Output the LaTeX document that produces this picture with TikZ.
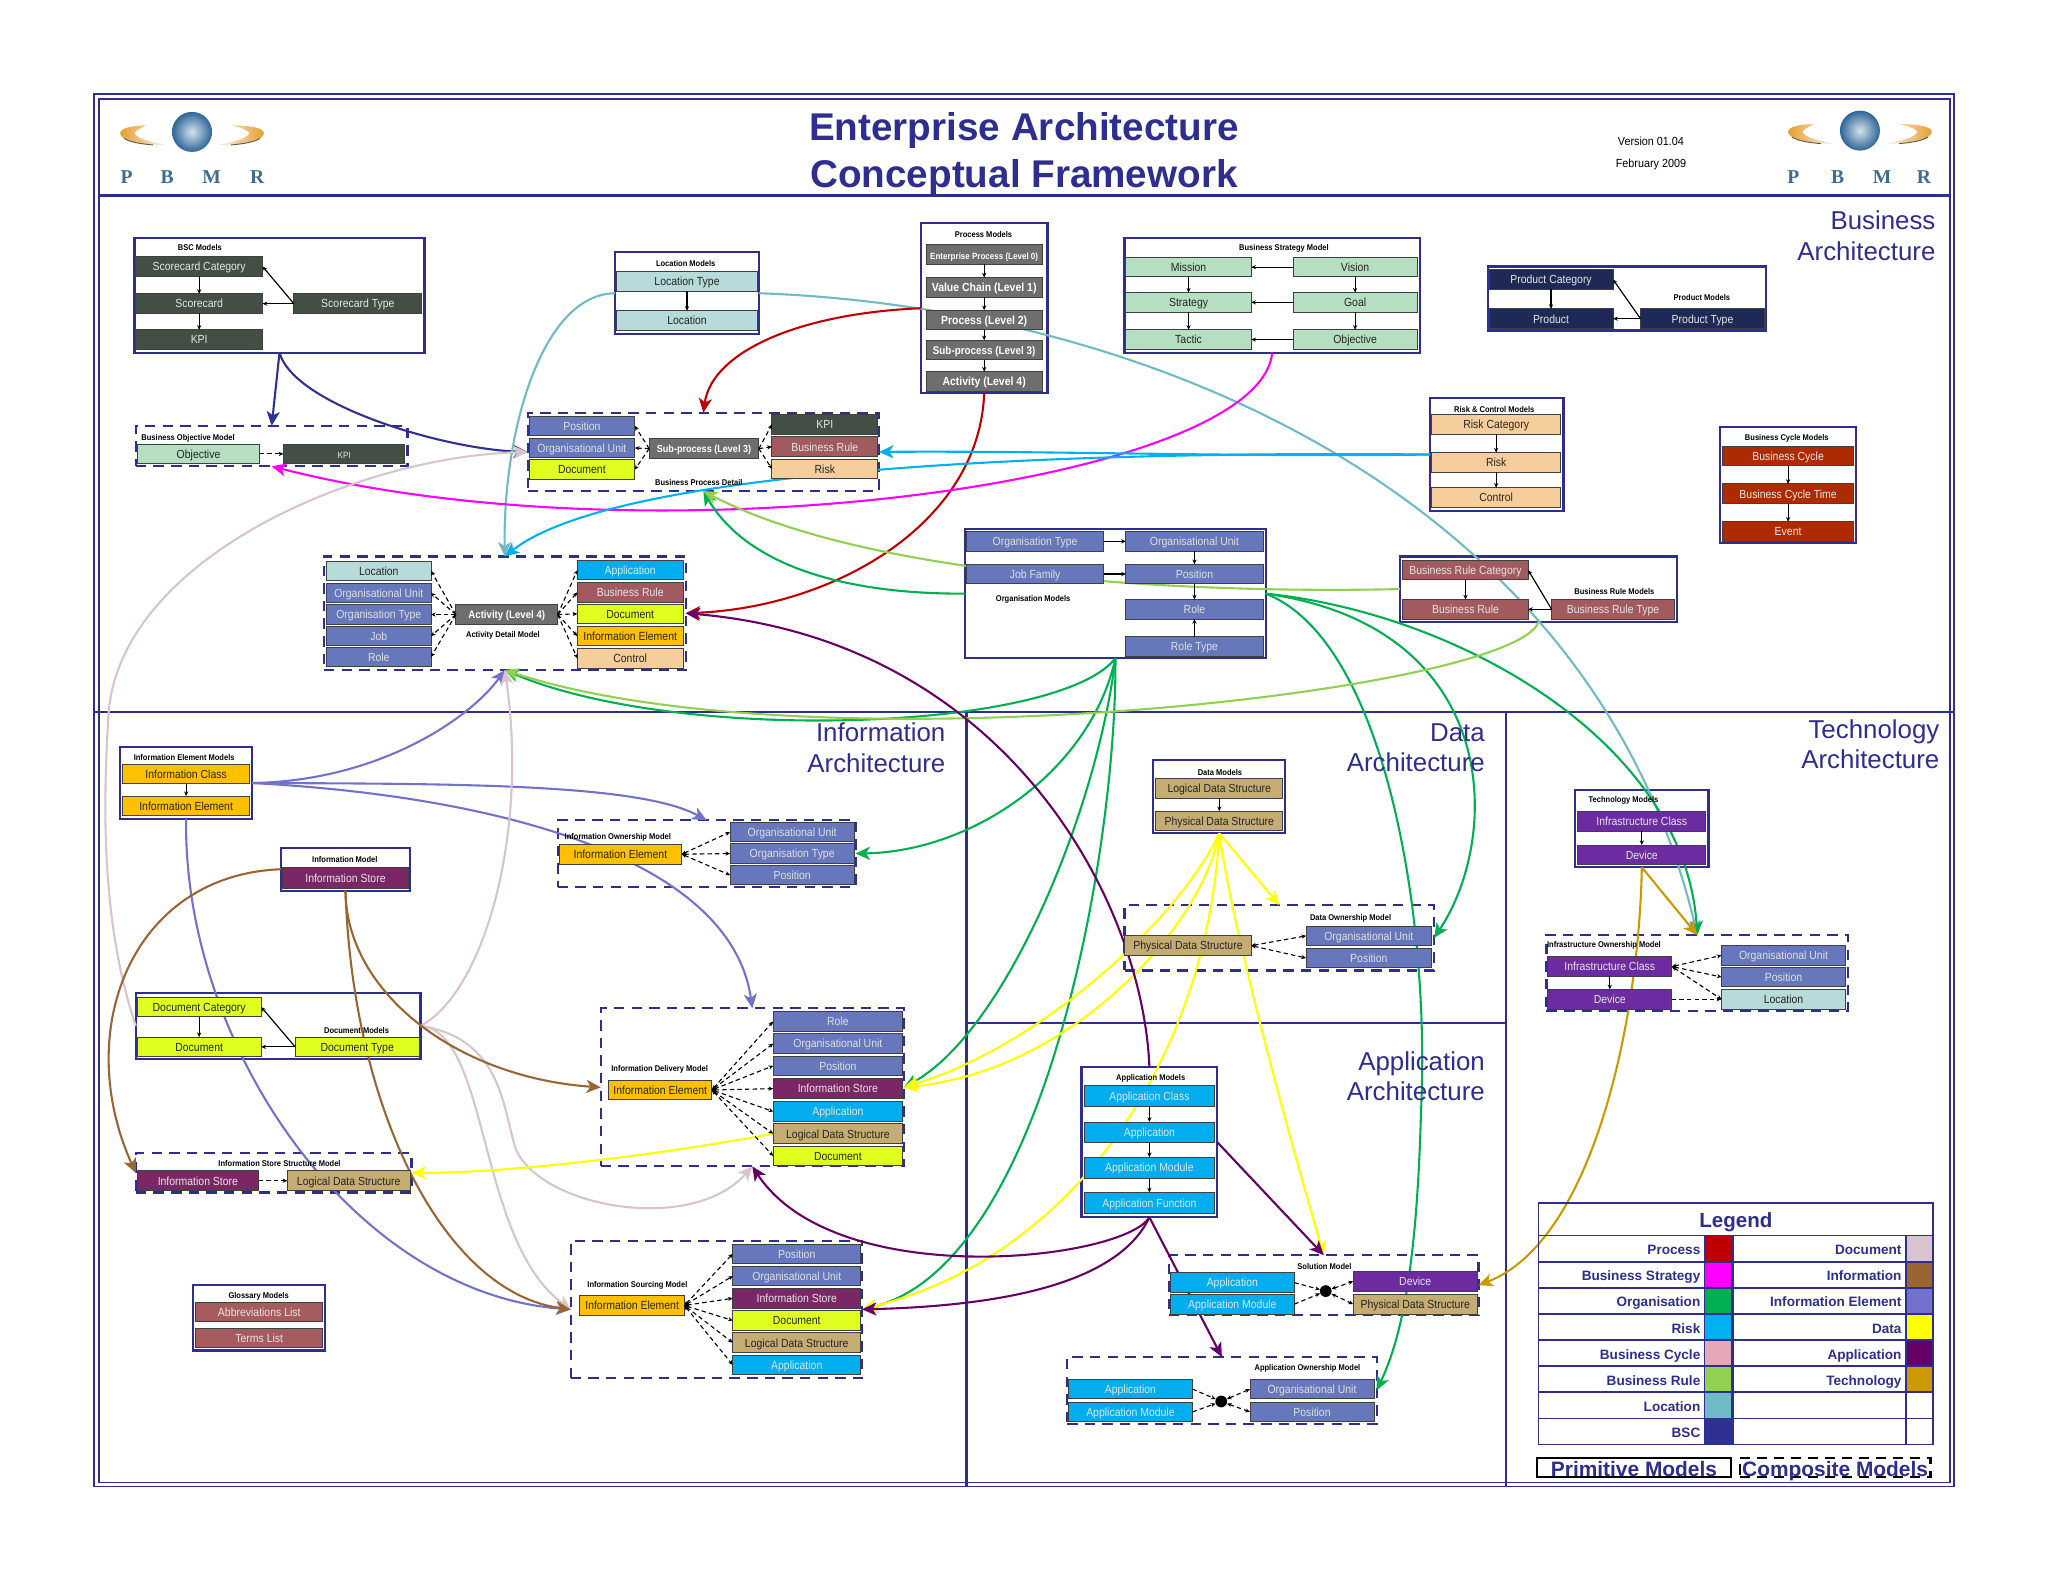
\documentclass[tikz,border=0pt]{standalone}
\usepackage{graphicx}
\usepackage{fontspec}
\setmainfont{Liberation Sans}
\newfontfamily\logofont{Liberation Serif}
\usetikzlibrary{arrows.meta}
\pgfdeclarelayer{frames}\pgfdeclarelayer{links}\pgfsetlayers{frames,links,main}
\definecolor{navy}{HTML}{2E2E90}
\definecolor{gBsc}{HTML}{434F45}\definecolor{gProc}{HTML}{6E6E6E}\definecolor{gStrat}{HTML}{B6DEC0}
\definecolor{gProd}{HTML}{1E2A55}\definecolor{gRisk}{HTML}{F6CE9C}\definecolor{gCyc}{HTML}{AE2A00}
\definecolor{gRule}{HTML}{A15B5E}\definecolor{gOrg}{HTML}{6677BB}\definecolor{gDoc}{HTML}{E0FF1F}
\definecolor{gIe}{HTML}{FFC000}\definecolor{gStore}{HTML}{7B2665}\definecolor{gLds}{HTML}{C4AC72}
\definecolor{gApp}{HTML}{00AEEF}\definecolor{gDev}{HTML}{6C2BA0}\definecolor{gGloss}{HTML}{A65C5E}
\definecolor{gLoc}{HTML}{B7DADB}
\definecolor{cBSC}{HTML}{2E3192}\definecolor{cProc}{HTML}{C00000}\definecolor{cStrat}{HTML}{FF00FF}
\definecolor{cOrg}{HTML}{00B050}\definecolor{cRisk}{HTML}{00B0F0}\definecolor{cCyc}{HTML}{E6A8B6}
\definecolor{cRule}{HTML}{92D050}\definecolor{cLoc}{HTML}{6FBBC5}\definecolor{cDoc}{HTML}{D9C3CE}
\definecolor{cInfo}{HTML}{996633}\definecolor{cIE}{HTML}{7272CC}\definecolor{cData}{HTML}{FFFF00}
\definecolor{cApp}{HTML}{660066}\definecolor{cTech}{HTML}{CC9900}
\definecolor{logoGold}{HTML}{E5A032}\definecolor{logoBall}{HTML}{2F6596}\definecolor{logoHi}{HTML}{D3E3EE}\definecolor{logoText}{HTML}{3F6C8E}
\newcommand\fs[1]{\fontsize{#1}{#1}\selectfont}
\newcommand\tx[1]{\scalebox{.89}[1]{#1}}
\newcommand\bx[6][]{\pgfmathsetmacro\mkW{#4-#3}\pgfmathsetmacro\mkX{(#3+#4)/2}%
  \node[box,minimum width=\mkW pt,#1] (#2) at (\mkX,#5) {\tx{#6}};}
\newcommand\ct[6][prim]{\pgfmathsetmacro\mkW{#5-#3}\pgfmathsetmacro\mkH{#6-#4}%
  \pgfmathsetmacro\mkX{(#3+#5)/2}\pgfmathsetmacro\mkY{(#4+#6)/2}%
  \node[#1,minimum width=\mkW pt,minimum height=\mkH pt] (#2) at (\mkX,\mkY) {};}
\newcommand\lab[4]{\node[lbl] (#1) at (#2,#3+.8) {\scalebox{.9}[1]{#4}};}
\newcommand\legrow[6]{%
  \draw[legline] (1178,#1-10) rectangle (1305,#1+10);
  \draw[legline,fill=#3] (1305,#1-10) rectangle (1326,#1+10);
  \draw[legline] (1327,#1-10) rectangle (1459,#1+10);
  \draw[legline,fill=#5] (1459,#1-10) rectangle (1480,#1+10);
  \node[legt] (legL#6) at (1302,#1+4.6) {#2};
  \node[legt] (legR#6) at (1456,#1+4.6) {#4};}
\newcommand\logo[7]{%
 \begin{scope}[shift={(#2,#3)}]
  \shade[inner color=logoHi,outer color=logoBall] (0,0) circle (15.3);
  \shade[left color=logoGold,right color=logoGold!15!white] (-35,-5) .. controls (-45,-5) and (-55,-3) .. (-55,1) .. controls (-55,7) and (-38,10) .. (-20,10) .. controls (-35,7) and (-42,5) .. (-44,1) .. controls (-43,-1) and (-39,-3) .. (-35,-5);
  \shade[right color=logoGold,left color=logoGold!15!white] (30,-5) .. controls (45,-5) and (55,-3) .. (55,1) .. controls (55,7) and (38,10) .. (20,10) .. controls (35,7) and (42,5) .. (44,1) .. controls (43,-1) and (39,-3) .. (30,-5);
  \draw[black!65,line width=.7] (-52,5) .. controls (-47,8) and (-40,9) .. (-30,10);
  \draw[black!65,line width=.7] (52,5) .. controls (47,8) and (40,9) .. (30,10);
 \end{scope}
 \node[logol] (#1P) at (#4,135.5) {P};
 \node[logol] (#1B) at (#5,135.5) {B};
 \node[logol] (#1M) at (#6,135.5) {M};
 \node[logol] (#1R) at (#7,135.5) {R};}
\tikzset{
 x=1pt,y=-1pt,
 box/.style={draw=black!75,line width=.7,inner sep=0,outer sep=0,minimum height=15pt,text height=7.6pt,text depth=1pt,font=\fs{9}},
 prim/.style={draw=navy,line width=1.7,inner sep=0,outer sep=0},
 comp/.style={prim,dash pattern=on 8pt off 5.5pt},
 lbl/.style={font=\bfseries\fs{6.4},inner sep=0,text=black},
 gsc/.style={fill=gBsc,text=white!90!black}, gp/.style={fill=gProc,text=white,font=\bfseries\fs{9}},
 gs/.style={fill=gStrat,text=black!85}, gd/.style={fill=gProd,text=white!90!black},
 gr/.style={fill=gRisk,text=black!85}, gc/.style={fill=gCyc,text=white!92!black},
 gb/.style={fill=gRule,text=white!90!black}, go/.style={fill=gOrg,text=white!88!black},
 gk/.style={fill=gDoc,text=black!85}, gi/.style={fill=gIe,text=black!85},
 gt/.style={fill=gStore,text=white!90!black}, gl/.style={fill=gLds,text=black!85},
 ga/.style={fill=gApp,text=white!90!black}, gv/.style={fill=gDev,text=white!90!black},
 gg/.style={fill=gGloss,text=white!90!black}, gn/.style={fill=gLoc,text=black!85},
 sol/.style={draw=black,line width=.9,-{Stealth[length=3.6pt,width=3.2pt]}},
 dsh/.style={draw=black,line width=.85,dash pattern=on 3.4pt off 2.4pt,-{Stealth[length=3.6pt,width=3.2pt]}},
 dsb/.style={dsh,{Stealth[length=3.6pt,width=3.2pt]}-{Stealth[length=3.6pt,width=3.2pt]}},
 lk/.style={line width=1.6,-{Stealth[length=11pt,width=10pt,inset=3pt]}},
 arch/.style={font=\fs{19.8},text=navy,align=right,anchor=east,inner sep=0},
 legline/.style={draw=navy,line width=1.3},
 legt/.style={font=\bfseries\fs{10.4},text=navy,anchor=base east,inner sep=0},
 logol/.style={font=\logofont\bfseries\fs{15},text=logoText,inner sep=0},
}
\begin{document}
\begin{tikzpicture}
\useasboundingbox (0,0) rectangle (1568,1211.2);
\begin{pgfonlayer}{frames}
 \fill[white] (0,0) rectangle (1568,1211.2);
 \draw[navy,line width=.9] (72,72) rectangle (1496,1138);
 \draw[navy,line width=1.4] (75.5,75.5) rectangle (1493,1135);
 \draw[navy,line width=2.6] (75.5,149.5) -- (1493,149.5);
 \draw[navy,line width=1.8] (72,545) -- (1496,545);
 \draw[navy,line width=1.8] (740,545) -- (740,1138);
 \draw[navy,line width=1.8] (1153,545) -- (1153,1138);
 \draw[navy,line width=1.8] (740,783) -- (1153,783);
 \ct{mBsc}{103}{182}{325}{270}
 \ct{mLoc}{471}{193}{581}{256}
 \ct{mProc}{705}{171}{802}{301}
 \ct{mStrat}{861}{182}{1087}{270}
 \ct{mProd}{1139}{204}{1352}{253}
 \ct{mRisk}{1095}{305}{1197}{391}
 \ct{mCyc}{1317}{327}{1421}{416}
 \ct{mRule}{1072}{426}{1284}{476}
 \ct{mOrg}{739}{405}{969}{504}
 \ct[comp]{mObj}{104}{326}{312}{357}
 \ct[comp]{mDet}{404}{316}{673}{376}
 \ct[comp]{mAct}{248}{426}{525}{513}
 \ct{mIe}{92}{572}{193}{627}
 \ct{mInfo}{215}{649}{314}{682}
 \ct[comp]{mOwn}{427}{628}{655}{679}
 \ct{mDoc}{104}{760}{322}{811}
 \ct[comp]{mDel}{460}{772}{692}{893}
 \ct[comp]{mSto}{104}{883}{315}{913}
 \ct{mGlo}{148}{984}{249}{1034}
 \ct[comp]{mSrc}{437}{950}{660}{1055}
 \ct{mData}{883}{582}{984}{638}
 \ct[comp]{mDown}{861}{693}{1098}{743}
 \ct{mApp}{828}{817}{932}{932}
 \ct[comp]{mSol}{895}{961}{1132}{1007}
 \ct[comp]{mAown}{817}{1039}{1054}{1090}
 \ct{mTech}{1206}{605}{1308}{664}
 \ct[comp]{mInf}{1184}{716}{1415}{774}
\end{pgfonlayer}
% header
\node[font=\bfseries\fs{29.6},text=navy,inner sep=0] (title1) at (784,100) {Enterprise Architecture};
\node[font=\bfseries\fs{29.6},text=navy,inner sep=0] (title2) at (784,136) {Conceptual Framework};
\node[font=\fs{9},inner sep=0] (ver) at (1264,108) {\scalebox{.92}[1]{Version 01.04}};
\node[font=\fs{9},inner sep=0] (dat) at (1264,126) {\scalebox{.92}[1]{February 2009}};
\logo{la}{147}{101}{97}{128}{162}{197}
\logo{lb}{1424}{100}{1373}{1407}{1441}{1473}
\node[arch] (aBus) at (1482,180.5) {Business\\[3.2pt]Architecture};
\node[arch] (aInf) at (724,572.5) {Information\\[3.2pt]Architecture};
\node[arch] (aDat) at (1137,572.5) {Data\\[3.2pt]Architecture};
\node[arch] (aTec) at (1485,569.5) {Technology\\[3.2pt]Architecture};
\node[arch] (aApp) at (1137,824) {Application\\[3.2pt]Architecture};
% BSC
\lab{lBsc}{153}{189}{BSC Models}
\bx[gsc]{bCat}{104}{201}{204}{Scorecard Category}
\bx[gsc]{bSc}{104}{201}{232.5}{Scorecard}
\bx[gsc]{bKpi}{104}{201}{260}{KPI}
\bx[gsc]{bTyp}{225}{323}{232.5}{Scorecard Type}
\draw[sol] (bCat) -- (bSc); \draw[sol] (bSc) -- (bKpi);
\draw[sol] (bTyp.west) -- (bCat.east); \draw[sol] (bTyp.west) -- (bSc.east);
% Location
\lab{lLoc}{525}{201}{Location Models}
\bx[gn]{lT}{472}{580}{215.5}{Location Type}
\bx[gn]{lL}{472}{580}{245.5}{Location}
\draw[sol] (lT) -- (lL);
% Process
\lab{lProc}{753}{179}{Process Models}
\bx[gp,font=\bfseries\fs{6.9}]{p0}{709}{798}{195}{Enterprise Process (Level 0)}
\bx[gp]{p1}{709}{798}{220}{Value Chain (Level 1)}
\bx[gp]{p2}{709}{798}{245}{Process (Level 2)}
\bx[gp,font=\bfseries\fs{8.5}]{p3}{709}{798}{268}{Sub-process (Level 3)}
\bx[gp]{p4}{709}{798}{292}{Activity (Level 4)}
\draw[sol] (p0) -- (p1); \draw[sol] (p1) -- (p2); \draw[sol] (p2) -- (p3); \draw[sol] (p3) -- (p4);
% Strategy
\lab{lStr}{983}{189}{Business Strategy Model}
\bx[gs]{sM}{862}{958}{204.5}{Mission}
\bx[gs]{sV}{990}{1085}{204.5}{Vision}
\bx[gs]{sS}{862}{958}{231.5}{Strategy}
\bx[gs]{sG}{990}{1085}{231.5}{Goal}
\bx[gs]{sT}{862}{958}{260}{Tactic}
\bx[gs]{sO}{990}{1085}{260}{Objective}
\draw[sol] (sV) -- (sM); \draw[sol] (sG) -- (sS); \draw[sol] (sO) -- (sT);
\draw[sol] (sM) -- (sS); \draw[sol] (sS) -- (sT); \draw[sol] (sV) -- (sG); \draw[sol] (sG) -- (sO);
% Product
\lab{lPrd}{1303}{227}{Product Models}
\bx[gd]{dC}{1140}{1235}{214}{Product Category}
\bx[gd]{dP}{1140}{1235}{244}{Product}
\bx[gd]{dT}{1256}{1351}{244}{Product Type}
\draw[sol] (dC) -- (dP); \draw[sol] (dT.west) -- (dP.east); \draw[sol] (dT.west) -- (dC.east);
% Risk
\lab{lRsk}{1144}{313}{Risk \& Control Models}
\bx[gr]{rC}{1096}{1195}{325}{Risk Category}
\bx[gr]{rR}{1096}{1195}{354}{Risk}
\bx[gr]{rK}{1096}{1195}{381}{Control}
\draw[sol] (rC) -- (rR); \draw[sol] (rR) -- (rK);
% Cycle
\lab{lCyc}{1368}{335}{Business Cycle Models}
\bx[gc]{cB}{1319}{1419}{349}{Business Cycle}
\bx[gc]{cT}{1319}{1419}{378}{Business Cycle Time}
\bx[gc]{cE}{1319}{1419}{407}{Event}
\draw[sol] (cB) -- (cT); \draw[sol] (cT) -- (cE);
% Rule
\lab{lRul}{1236}{452}{Business Rule Models}
\bx[gb]{uC}{1074}{1170}{436.5}{Business Rule Category}
\bx[gb]{uR}{1074}{1170}{466.5}{Business Rule}
\bx[gb]{uT}{1188}{1282}{466.5}{Business Rule Type}
\draw[sol] (uC) -- (uR); \draw[sol] (uT.west) -- (uR.east); \draw[sol] (uT.west) -- (uC.east);
% Organisation
\lab{lOrg}{791}{458}{Organisation Models}
\bx[go]{oT}{740}{845}{414.5}{Organisation Type}
\bx[go]{oU}{862}{967}{414.5}{Organisational Unit}
\bx[go]{oJ}{740}{845}{439.5}{Job Family}
\bx[go]{oP}{862}{967}{439.5}{Position}
\bx[go]{oR}{862}{967}{466.5}{Role}
\bx[go]{oY}{862}{967}{495}{Role Type}
\draw[sol] (oT) -- (oU); \draw[sol] (oJ) -- (oP); \draw[sol] (oU) -- (oP); \draw[sol] (oP) -- (oR); \draw[sol] (oY) -- (oR);
% Business objective
\lab{lObj}{144}{335}{Business Objective Model}
\bx[gs]{jO}{105}{199}{347.5}{Objective}
\bx[gsc,font=\fs{7}]{jK}{217}{310}{347.5}{KPI}
\draw[dsh] (jO) -- (jK);
% Process detail
\lab{lDet}{535}{369}{Business Process Detail}
\bx[go]{tP}{405}{486}{326}{Position}
\bx[go]{tU}{405}{486}{343}{Organisational Unit}
\bx[gk]{tD}{405}{486}{359.5}{Document}
\bx[gp,font=\bfseries\fs{7.8}]{tS}{497}{581}{343.5}{Sub-process (Level 3)}
\bx[gsc]{tK}{591}{672}{325}{KPI}
\bx[gb]{tB}{591}{672}{342}{Business Rule}
\bx[gr]{tR}{591}{672}{359}{Risk}
\foreach \n in {tP,tU,tD} \draw[dsh] (tS.west) -- (\n.east);
\foreach \n in {tK,tB,tR} \draw[dsh] (tS.east) -- (\n.west);
% Activity detail
\lab{lAct}{385}{486}{Activity Detail Model}
\bx[gn]{aL}{250}{330}{437}{Location}
\bx[go]{aU}{250}{330}{454}{Organisational Unit}
\bx[go]{aT}{250}{330}{470.5}{Organisation Type}
\bx[go]{aJ}{250}{330}{487}{Job}
\bx[go]{aR}{250}{330}{503}{Role}
\bx[gp,font=\bfseries\fs{8.3}]{aA}{349}{427}{470.5}{Activity (Level 4)}
\bx[ga]{aP}{442}{523}{436.5}{Application}
\bx[gb]{aB}{442}{523}{453.5}{Business Rule}
\bx[gk]{aD}{442}{523}{470}{Document}
\bx[gi]{aI}{442}{523}{487}{Information Element}
\bx[gr]{aC}{442}{523}{504}{Control}
\foreach \n in {aL,aU,aT,aJ,aR} \draw[dsh] (aA.west) -- (\n.east);
\foreach \n in {aP,aB,aD,aI,aC} \draw[dsh] (aA.east) -- (\n.west);
% Information Element models
\lab{lIe}{141}{579}{Information Element Models}
\bx[gi]{iC}{94}{191}{592.5}{Information Class}
\bx[gi]{iE}{94}{191}{617}{Information Element}
\draw[sol] (iC) -- (iE);
\lab{lInf}{264}{657}{Information Model}
\bx[gt,minimum height=16pt]{nS}{216}{313}{672}{Information Store}
% Ownership
\lab{lOwn}{473}{640}{Information Ownership Model}
\bx[gi]{wE}{428}{522}{654}{Information Element}
\bx[go]{wU}{559}{654}{637}{Organisational Unit}
\bx[go]{wT}{559}{654}{653.5}{Organisation Type}
\bx[go]{wP}{559}{654}{670}{Position}
\foreach \n in {wU,wT,wP} \draw[dsb] (wE.east) -- (\n.west);
% Document
\lab{lDoc}{273}{788}{Document Models}
\bx[gk]{kC}{105}{200}{771}{Document Category}
\bx[gk]{kD}{105}{200}{801.5}{Document}
\bx[gk]{kT}{226}{321}{801.5}{Document Type}
\draw[sol] (kC) -- (kD); \draw[sol] (kT.west) -- (kD.east); \draw[sol] (kT.west) -- (kC.east);
% Delivery
\lab{lDel}{505}{818}{Information Delivery Model}
\bx[gi]{eE}{466}{545}{834.5}{Information Element}
\bx[go]{eR}{592}{691}{782}{Role}
\bx[go]{eU}{592}{691}{799}{Organisational Unit}
\bx[go]{eP}{592}{691}{816}{Position}
\bx[gt]{eS}{592}{691}{833.5}{Information Store}
\bx[ga]{eA}{592}{691}{851}{Application}
\bx[gl]{eL}{592}{691}{868}{Logical Data Structure}
\bx[gk]{eD}{592}{691}{885}{Document}
\foreach \n in {eR,eU,eP,eS,eA,eL,eD} \draw[dsb] (eE.east) -- (\n.west);
% Store structure
\lab{lSto}{214}{890}{Information Store Structure Model}
\bx[gt]{hS}{105}{198}{904}{Information Store}
\bx[gl]{hL}{220}{314}{904}{Logical Data Structure}
\draw[dsh] (hS) -- (hL);
% Glossary
\lab{lGlo}{198}{992}{Glossary Models}
\bx[gg]{gA}{150}{247}{1004.5}{Abbreviations List}
\bx[gg]{gT}{150}{247}{1024.5}{Terms List}
% Sourcing
\lab{lSrc}{488}{983}{Information Sourcing Model}
\bx[gi]{qE}{444}{524}{999.5}{Information Element}
\bx[go]{qP}{561}{659}{960}{Position}
\bx[go]{qU}{561}{659}{977}{Organisational Unit}
\bx[gt]{qS}{561}{659}{994}{Information Store}
\bx[gk]{qD}{561}{659}{1011}{Document}
\bx[gl]{qL}{561}{659}{1028}{Logical Data Structure}
\bx[ga]{qA}{561}{659}{1045}{Application}
\foreach \n in {qP,qU,qS,qD,qL,qA} \draw[dsb] (qE.east) -- (\n.west);
% Data
\lab{lDat}{934}{591}{Data Models}
\bx[gl]{xL}{885}{982}{603.5}{Logical Data Structure}
\bx[gl]{xP}{885}{982}{628.5}{Physical Data Structure}
\draw[sol] (xL) -- (xP);
% Data ownership
\lab{lDow}{1034}{702}{Data Ownership Model}
\bx[gl]{yP}{861}{958}{724}{Physical Data Structure}
\bx[go]{yU}{1000}{1096}{716.5}{Organisational Unit}
\bx[go]{yO}{1000}{1096}{733.5}{Position}
\draw[dsb] (yP.east) -- (yU.west); \draw[dsb] (yP.east) -- (yO.west);
% Application
\lab{lApp}{881}{825}{Application Models}
\bx[ga,minimum height=16pt]{pC}{830}{930}{839}{Application Class}
\bx[ga,minimum height=16pt]{pA}{830}{930}{867}{Application}
\bx[ga,minimum height=16pt]{pM}{830}{930}{894}{Application Module}
\bx[ga,minimum height=16pt]{pF}{830}{930}{921}{Application Function}
\draw[sol] (pC) -- (pA); \draw[sol] (pA) -- (pM); \draw[sol] (pM) -- (pF);
% Solution
\lab{lSol}{1014}{969}{Solution Model}
\bx[ga]{vA}{896}{991}{982}{Application}
\bx[ga]{vM}{896}{991}{998.5}{Application Module}
\bx[gv]{vD}{1036}{1131}{981}{Device}
\bx[gl]{vP}{1036}{1131}{998.5}{Physical Data Structure}
\node[circle,fill=black,inner sep=0,minimum size=9pt] (vX) at (1015,988.5) {};
\draw[dsh] (vA.east) -- (vX); \draw[dsh] (vM.east) -- (vX); \draw[dsb] (vX) -- (vD.west); \draw[dsb] (vX) -- (vP.west);
% App ownership
\lab{lAow}{1001}{1047}{Application Ownership Model}
\bx[ga]{zA}{818}{913}{1063.5}{Application}
\bx[ga]{zM}{818}{913}{1081}{Application Module}
\bx[go]{zU}{957}{1052}{1063.5}{Organisational Unit}
\bx[go]{zP}{957}{1052}{1081}{Position}
\node[circle,fill=black,inner sep=0,minimum size=9pt] (zX) at (935,1073) {};
\draw[dsh] (zA.east) -- (zX); \draw[dsh] (zM.east) -- (zX); \draw[dsb] (zX) -- (zU.west); \draw[dsb] (zX) -- (zP.west);
% Technology
\lab{lTec}{1243}{612}{Technology Models}
\bx[gv]{fC}{1208}{1306}{629}{Infrastructure Class}
\bx[gv]{fD}{1208}{1306}{654.5}{Device}
\draw[sol] (fC) -- (fD);
% Infrastructure ownership
\lab{lIno}{1228}{723}{Infrastructure Ownership Model}
\bx[gv]{gC}{1185}{1280}{740}{Infrastructure Class}
\bx[gv]{gD}{1185}{1280}{765}{Device}
\bx[go]{gU}{1318}{1413}{731.5}{Organisational Unit}
\bx[go]{gP}{1318}{1413}{748}{Position}
\bx[gn]{gL}{1318}{1413}{765}{Location}
\draw[sol] (gC) -- (gD);
\foreach \n in {gU,gP,gL} \draw[dsb] (gC.east) -- (\n.west);
\draw[dsh] (gD.east) -- (gL.west);
% Legend
\draw[legline] (1178,921) rectangle (1480,946);
\node[font=\bfseries\fs{15.7},text=navy,inner sep=0] (legT) at (1329,936) {Legend};
\legrow{956}{Process}{cProc}{Document}{cDoc}{1}
\legrow{976}{Business Strategy}{cStrat}{Information}{cInfo}{2}
\legrow{996}{Organisation}{cOrg}{Information Element}{cIE}{3}
\legrow{1016}{Risk}{cRisk}{Data}{cData}{4}
\legrow{1036}{Business Cycle}{cCyc}{Application}{cApp}{5}
\legrow{1056}{Business Rule}{cRule}{Technology}{cTech}{6}
\legrow{1076}{Location}{cLoc}{}{white}{7}
\legrow{1096}{BSC}{cBSC}{}{white}{8}
\ct[draw=black,line width=1.7,inner sep=0,outer sep=0]{kPrim}{1177}{1116}{1325}{1131}
\ct[draw=black,line width=1.7,dash pattern=on 8pt off 5pt,inner sep=0,outer sep=0]{kComp}{1332}{1116}{1478}{1131}
\node[font=\bfseries\fs{16},text=navy,inner sep=0] (kPt) at (1251,1125) {Primitive Models};
\node[font=\bfseries\fs{16},text=navy,inner sep=0] (kCt) at (1405,1126) {Composite Models};
% connectors
\begin{pgfonlayer}{links}
 % BSC
 \draw[lk,cBSC] (mBsc.south) -- (mObj.north);
 \draw[lk,cBSC] (mBsc.south) .. controls (225,310) and (340,344) .. (mDet.west);
 % Location
 \draw[lk,cLoc] (mLoc.west) .. controls (415,225) and (385,330) .. (mAct.north);
 \draw[lk,cLoc] (mLoc.east) .. controls (880,235) and (1220,380) .. (mInf.north);
 % Process
 \draw[lk,cProc] (mProc.west) .. controls (610,240) and (545,270) .. (mDet.north);
 \draw[lk,cProc] (mProc.south) .. controls (750,400) and (640,465) .. (mAct.east);
 % Strategy
 \draw[lk,cStrat] (mStrat.south) .. controls (965,370) and (500,432) .. (mObj.south);
 % Risk
 \draw[lk,cRisk] (mRisk.west) .. controls (950,350) and (800,345) .. (mDet.east);
 \draw[lk,cRisk] (mRisk.west) .. controls (800,345) and (470,360) .. (mAct.north);
 % Organisation
 \draw[lk,cOrg] (mOrg.west) .. controls (640,455) and (570,430) .. (mDet.south);
 \draw[lk,cOrg] (mOrg.south) .. controls (810,560) and (520,570) .. (mAct.south);
 \draw[lk,cOrg] (mOrg.south) .. controls (835,590) and (745,652) .. (mOwn.east);
 \draw[lk,cOrg] (mOrg.south) .. controls (840,620) and (770,790) .. (mDel.east);
 \draw[lk,cOrg] (mOrg.south) .. controls (855,650) and (800,970) .. (mSrc.east);
 \draw[lk,cOrg] (mOrg.east) .. controls (1150,480) and (1150,640) .. (mDown.east);
 \draw[lk,cOrg] (mOrg.east) .. controls (1120,470) and (1290,570) .. (mInf.north);
 \draw[lk,cOrg] (mOrg.east) .. controls (1060,490) and (1095,700) .. (1088,850) .. controls (1085,960) and (1075,1020) .. (mAown.east);
 % Rule
 \draw[lk,cRule] (mRule.west) .. controls (900,455) and (660,440) .. (mDet.south);
 \draw[lk,cRule] (mRule.south) .. controls (1160,530) and (620,590) .. (mAct.south);
 % Information Element
 \draw[lk,cIE] (mIe.east) .. controls (290,598) and (360,550) .. (mAct.south);
 \draw[lk,cIE] (mIe.east) .. controls (350,600) and (490,600) .. (mOwn.north);
 \draw[lk,cIE] (mIe.east) .. controls (390,610) and (560,660) .. (mDel.north);
 \draw[lk,cIE] (mIe.south) .. controls (140,800) and (270,990) .. (mSrc.west);
 % Document
 \draw[lk,cDoc] (mDoc.west) .. controls (75,700) and (80,600) .. (83,548) .. controls (90,430) and (270,350) .. (mDet.west);
 \draw[lk,cDoc] (mDoc.east) .. controls (370,760) and (405,640) .. (mAct.south);
 \draw[lk,cDoc] (mDoc.east) .. controls (385,795) and (385,850) .. (395,880) .. controls (415,925) and (530,945) .. (mDel.south);
 \draw[lk,cDoc] (mDoc.east) .. controls (375,790) and (365,950) .. (mSrc.west);
 % Information
 \draw[lk,cInfo] (mInfo.west) .. controls (100,670) and (55,790) .. (mSto.west);
 \draw[lk,cInfo] (mInfo.south) .. controls (265,760) and (350,825) .. (mDel.west);
 \draw[lk,cInfo] (mInfo.south) .. controls (270,850) and (340,990) .. (mSrc.west);
 % Data
 \draw[lk,cData] (mData.south) -- (mDown.north);
 \draw[lk,cData] (mData.south) .. controls (945,720) and (990,880) .. (mSol.north);
 \draw[lk,cData] (mData.south) .. controls (905,700) and (800,800) .. (mDel.east);
 \draw[lk,cData] (mData.south) .. controls (920,710) and (820,820) .. (mDel.east);
 \draw[lk,cData] (mData.south) .. controls (925,800) and (830,960) .. (mSrc.east);
 \draw[lk,cData] (eL.west) .. controls (500,885) and (390,898) .. (mSto.east);
 % Application
 \draw[lk,cApp] (mApp.north) .. controls (875,690) and (770,490) .. (mAct.east);
 \draw[lk,cApp] (mApp.east) -- (mSol.north);
 \draw[lk,cApp] (mApp.south) .. controls (860,965) and (640,990) .. (mDel.south);
 \draw[lk,cApp] (mApp.south) .. controls (855,985) and (760,1000) .. (mSrc.east);
 \draw[lk,cApp] (mApp.south) -- (mAown.north);
 % Technology
 \draw[lk,cTech] (mTech.south) -- (mInf.north);
 \draw[lk,cTech] (mTech.south) .. controls (1255,780) and (1220,950) .. (mSol.east);
\end{pgfonlayer}
\end{tikzpicture}
\end{document}
